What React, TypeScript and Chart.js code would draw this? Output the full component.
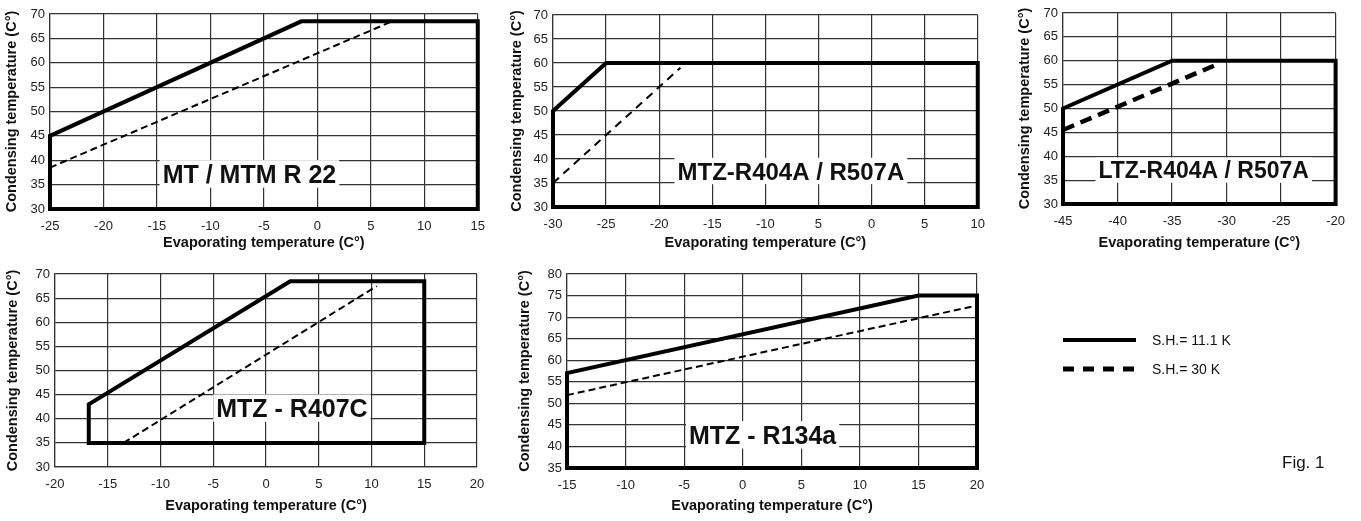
import React, { useEffect, useRef } from 'react';
import { Chart, registerables } from 'chart.js';
Chart.register(...registerables);

const FONT = '"Liberation Sans", Arial, Helvetica, sans-serif';

// ---------------- Data ----------------
const yTitle = 'Condensing temperature (C°)';
const xTitle = 'Evaporating temperature (C°)';

// MT / MTM R 22
const r22Label = 'MT / MTM R 22';
const r22XTicks = ['-25', '-20', '-15', '-10', '-5', '0', '5', '10', '15'];
const r22YTicks = ['30', '35', '40', '45', '50', '55', '60', '65', '70'];
const r22SolidX = [-25, -25, -1.5, 15, 15, -25];
const r22SolidY = [30, 45, 68.5, 68.5, 30, 30];
const r22DashX = [-25, 7];
const r22DashY = [38.5, 68.5];

// MTZ-R404A / R507A
const r404Label = 'MTZ-R404A / R507A';
const r404XTicks = ['-30', '-25', '-20', '-15', '-10', '5', '0', '5', '10'];
const r404YTicks = ['30', '35', '40', '45', '50', '55', '60', '65', '70'];
const r404SolidX = [-30, -30, -25, 10, 10, -30];
const r404SolidY = [30, 50, 60, 60, 30, 30];
const r404DashX = [-30, -18];
const r404DashY = [35, 59];

// LTZ-R404A / R507A
const ltzLabel = 'LTZ-R404A / R507A';
const ltzXTicks = ['-45', '-40', '-35', '-30', '-25', '-20'];
const ltzYTicks = ['30', '35', '40', '45', '50', '55', '60', '65', '70'];
const ltzSolidX = [-45, -45, -35, -20, -20, -45];
const ltzSolidY = [30, 50, 60, 60, 30, 30];
const ltzDashX = [-45, -30.6];
const ltzDashY = [45.5, 59.5];

// MTZ - R407C
const r407Label = 'MTZ - R407C';
const r407XTicks = ['-20', '-15', '-10', '-5', '0', '5', '10', '15', '20'];
const r407YTicks = ['30', '35', '40', '45', '50', '55', '60', '65', '70'];
const r407SolidX = [-16.8, -16.8, 2.3, 15, 15, -16.8];
const r407SolidY = [35, 43, 68.5, 68.5, 35, 35];
const r407DashX = [-13.5, 10.5];
const r407DashY = [35, 67.5];

// MTZ - R134a
const r134Label = 'MTZ - R134a';
const r134XTicks = ['-15', '-10', '-5', '0', '5', '10', '15', '20'];
const r134YTicks = ['35', '40', '45', '50', '55', '60', '65', '70', '75', '80'];
const r134SolidX = [-15, -15, 15, 20, 20, -15];
const r134SolidY = [35, 57, 75, 75, 35, 35];
const r134DashX = [-15, 20];
const r134DashY = [51.9, 72.7];

// Legend
const legendLabels = ['S.H.= 11.1 K', 'S.H.= 30 K'];
const figLabel = 'Fig. 1';

// ---------------- Panels ----------------
type Panel = {
  cx: number; cy: number; w: number; h: number;
  L: number; T: number; R: number; B: number;
  xMin: number; xMax: number; yMin: number; yMax: number;
  xTicks: string[]; yTicks: string[];
  solidX: number[]; solidY: number[];
  dashX: number[]; dashY: number[];
  dash: number[]; dashWidth: number;
  label: string; labelX: number; labelY: number; labelSize: number;
};

const panels: Panel[] = [
  {
    cx: 0, cy: 0, w: 495, h: 254, L: 50, T: 14, R: 479, B: 209,
    xMin: -25, xMax: 15, yMin: 30, yMax: 70, xTicks: r22XTicks, yTicks: r22YTicks,
    solidX: r22SolidX, solidY: r22SolidY, dashX: r22DashX, dashY: r22DashY,
    dash: [7, 4], dashWidth: 2, label: r22Label, labelX: -6.35, labelY: 37.2, labelSize: 25,
  },
  {
    cx: 505, cy: 0, w: 490, h: 254, L: 553, T: 15, R: 978, B: 207,
    xMin: -30, xMax: 10, yMin: 30, yMax: 70, xTicks: r404XTicks, yTicks: r404YTicks,
    solidX: r404SolidX, solidY: r404SolidY, dashX: r404DashX, dashY: r404DashY,
    dash: [8, 6], dashWidth: 2, label: r404Label, labelX: -7.6, labelY: 37.5, labelSize: 24,
  },
  {
    cx: 1013, cy: 0, w: 342, h: 254, L: 1063, T: 13, R: 1337, B: 204,
    xMin: -45, xMax: -20, yMin: 30, yMax: 70, xTicks: ltzXTicks, yTicks: ltzYTicks,
    solidX: ltzSolidX, solidY: ltzSolidY, dashX: ltzDashX, dashY: ltzDashY,
    dash: [12, 7], dashWidth: 4.5, label: ltzLabel, labelX: -32.1, labelY: 37.1, labelSize: 23,
  },
  {
    cx: 1, cy: 259, w: 494, h: 258, L: 55, T: 274, R: 477, B: 467,
    xMin: -20, xMax: 20, yMin: 30, yMax: 70, xTicks: r407XTicks, yTicks: r407YTicks,
    solidX: r407SolidX, solidY: r407SolidY, dashX: r407DashX, dashY: r407DashY,
    dash: [7, 4], dashWidth: 2, label: r407Label, labelX: 2.46, labelY: 42.2, labelSize: 25,
  },
  {
    cx: 513, cy: 259, w: 482, h: 258, L: 567, T: 274, R: 977, B: 468,
    xMin: -15, xMax: 20, yMin: 35, yMax: 80, xTicks: r134XTicks, yTicks: r134YTicks,
    solidX: r134SolidX, solidY: r134SolidY, dashX: r134DashX, dashY: r134DashY,
    dash: [7, 4], dashWidth: 2, label: r134Label, labelX: 1.7, labelY: 42.7, labelSize: 25,
  },
];

const labelPlugin = {
  id: 'panelLabel',
  beforeDatasetsDraw(chart: any, _args: any, opts: any) {
    const { text, x, y, size } = opts;
    const px = chart.scales.x.getPixelForValue(x);
    const py = chart.scales.y.getPixelForValue(y);
    const ctx = chart.ctx;
    ctx.save();
    ctx.font = `bold ${size}px ${FONT}`;
    const w = ctx.measureText(text).width;
    ctx.fillStyle = '#ffffff';
    ctx.fillRect(px - w / 2 - 3, py - size * 0.55, w + 6, size * 1.1);
    ctx.fillStyle = '#111111';
    ctx.textAlign = 'center';
    ctx.textBaseline = 'alphabetic';
    ctx.fillText(text, px, py + size * 0.36);
    ctx.restore();
  },
};

function ChartPanel({ p }: { p: Panel }) {
  const ref = useRef<HTMLCanvasElement>(null);
  useEffect(() => {
    if (!ref.current) return;
    const xh = p.cy + p.h - p.B;
    const yw = p.L - p.cx;
    const chart = new Chart(ref.current, {
      type: 'scatter',
      data: {
        datasets: [
          {
            data: p.solidX.map((x, i) => ({ x, y: p.solidY[i] })),
            showLine: true,
            borderColor: '#000',
            borderWidth: 4,
            pointRadius: 0,
            borderCapStyle: 'square',
            borderJoinStyle: 'miter',
            clip: false,
          } as any,
          {
            data: p.dashX.map((x, i) => ({ x, y: p.dashY[i] })),
            showLine: true,
            borderColor: '#000',
            borderWidth: p.dashWidth,
            borderDash: p.dash,
            pointRadius: 0,
            clip: false,
          } as any,
        ],
      },
      options: {
        animation: false,
        responsive: false,
        events: [],
        layout: {
          padding: { left: 0, top: p.T - p.cy, right: p.cx + p.w - p.R, bottom: 0 },
        },
        plugins: {
          legend: { display: false },
          tooltip: { enabled: false },
          panelLabel: { text: p.label, x: p.labelX, y: p.labelY, size: p.labelSize },
        } as any,
        scales: {
          x: {
            type: 'linear',
            min: p.xMin,
            max: p.xMax,
            afterFit: (s: any) => { s.height = xh; },
            ticks: {
              stepSize: 5,
              autoSkip: false,
              maxRotation: 0,
              padding: 10,
              color: '#222',
              font: { size: 13, family: FONT },
              callback: (_v: any, i: number) => p.xTicks[i],
            },
            grid: { color: '#333', lineWidth: 1.2, drawTicks: false },
            border: { color: '#333', width: 1.2 },
            title: {
              display: true,
              text: xTitle,
              color: '#111',
              font: { size: 14.5, weight: 'bold', family: FONT },
              padding: { top: 0, bottom: 2 },
            },
          },
          y: {
            type: 'linear',
            min: p.yMin,
            max: p.yMax,
            afterFit: (s: any) => { s.width = yw; },
            ticks: {
              stepSize: 5,
              autoSkip: false,
              padding: 5,
              color: '#222',
              font: { size: 13, family: FONT },
              callback: (_v: any, i: number) => p.yTicks[i],
            },
            grid: { color: '#333', lineWidth: 1.2, drawTicks: false },
            border: { color: '#333', width: 1.2 },
            title: {
              display: true,
              text: yTitle,
              color: '#111',
              font: { size: 14.5, weight: 'bold', family: FONT },
              padding: { top: 3, bottom: 0 },
            },
          },
        },
      } as any,
      plugins: [labelPlugin],
    });
    return () => chart.destroy();
  }, [p]);
  return (
    <canvas
      ref={ref}
      width={p.w}
      height={p.h}
      style={{ position: 'absolute', left: p.cx, top: p.cy, width: p.w, height: p.h }}
    />
  );
}

export default function App() {
  return (
    <div style={{ position: 'absolute', left: 0, top: 0, width: 1361, height: 521, background: '#fff', overflow: 'hidden', fontFamily: FONT }}>
      {panels.map((p, i) => <ChartPanel key={i} p={p} />)}
      <svg width={1361} height={521} style={{ position: 'absolute', left: 0, top: 0, pointerEvents: 'none' }}>
        <line x1={1063} y1={340} x2={1136} y2={340} stroke="#000" strokeWidth={4} />
        <line x1={1063} y1={369} x2={1134} y2={369} stroke="#000" strokeWidth={5} strokeDasharray="11 9" />
      </svg>
      <div style={{ position: 'absolute', left: 1152, top: 331, fontSize: 14, lineHeight: '18px', color: '#111', whiteSpace: 'nowrap' }}>{legendLabels[0]}</div>
      <div style={{ position: 'absolute', left: 1152, top: 360, fontSize: 14, lineHeight: '18px', color: '#111', whiteSpace: 'nowrap' }}>{legendLabels[1]}</div>
      <div style={{ position: 'absolute', left: 1282, top: 452, fontSize: 17, lineHeight: '22px', color: '#111', whiteSpace: 'nowrap' }}>{figLabel}</div>
    </div>
  );
}
